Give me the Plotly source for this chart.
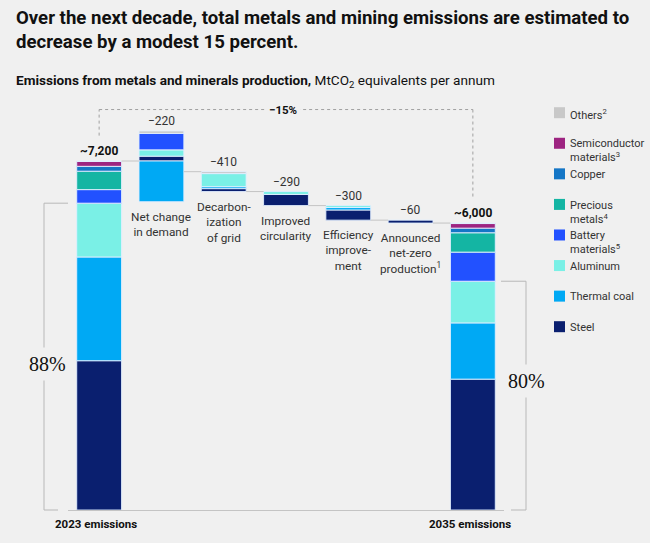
import plotly.graph_objects as go

# stages of the waterfall (x positions 0..6)
stages = ["2023 emissions", "Net change<br>in demand", "Decarbon-<br>ization<br>of grid",
          "Improved<br>circularity", "Efficiency<br>improve-<br>ment",
          "Announced<br>net-zero<br>production<sup>1</sup>", "2035 emissions"]
value_labels = ["~7,200", "\u2212220", "\u2212410", "\u2212290", "\u2212300", "\u221260", "~6,000"]
change_label = "\u221215%"

materials = ["Steel", "Thermal coal", "Aluminum", "Battery materials", "Precious metals",
             "Copper", "Semiconductor materials", "Others"]
legend_labels = ["Steel", "Thermal coal", "Aluminum", "Battery<br>materials<sup>5</sup>",
                 "Precious<br>metals<sup>4</sup>", "Copper",
                 "Semiconductor<br>materials<sup>3</sup>", "Others<sup>2</sup>"]
colors = ["#0a1f6f", "#00a9f4", "#7af0e6", "#2251ff", "#14b5a3", "#1476c6", "#9d2481", "#c8c8c8"]

# MtCO2e: first and last = totals, middle = change per lever
steel = [3080, 100, -60, -230, -210, -60, 2700]
thermal_coal = [2140, -840, -40, 0, -50, 0, 1160]
aluminum = [1110, 130, -270, -60, -40, 0, 860]
battery = [280, 340, 0, 0, 0, 0, 600]
precious = [380, 0, 0, 0, 0, 0, 400]
copper = [100, 0, 0, 0, 0, 0, 95]
semiconductor = [100, 0, 0, 0, 0, 0, 95]
others = [10, 50, -40, 0, 0, 0, 10]
series = [steel, thermal_coal, aluminum, battery, precious, copper, semiconductor, others]

YMAX = 8500
BAR_W = 0.72
BG = "#f0f0f0"
TXT = "#333333"
FONT = "Roboto"

n = len(stages)
bases = [[None] * n for _ in series]
heights = [[None] * n for _ in series]
tops, bottoms, ends = [0] * n, [0] * n, [0] * n
level = 0
for j in range(n):
    col = [s[j] for s in series]
    if j == 0 or j == n - 1:
        cum = 0
        for i, v in enumerate(col):
            if v:
                bases[i][j], heights[i][j] = cum, v
            cum += v
        tops[j], bottoms[j], ends[j] = cum, 0, cum
        level = cum
    else:
        neg = sum(v for v in col if v < 0)
        up, down = level, level + neg
        for i, v in enumerate(col):
            if v > 0:
                bases[i][j], heights[i][j] = up, v
                up += v
            elif v < 0:
                bases[i][j], heights[i][j] = down, -v
                down -= v
        tops[j], bottoms[j] = up, level + neg
        level += sum(col)
        ends[j] = level

fig = go.Figure()
for i, name in enumerate(materials):
    fig.add_trace(go.Bar(
        x=list(range(n)), y=heights[i], base=bases[i], name=name,
        width=BAR_W, marker=dict(color=colors[i], line=dict(color="rgba(225,238,255,0.9)", width=1)),
        showlegend=False, hoverinfo="skip"))

# plot geometry in px (for decorations outside the plot)
L, R, T, B = 68, 504, 98, 510


def px_x(px):
    return (px - L) / (R - L)


def px_y(py):
    return (B - py) / (B - T)


def dy(v):
    return v / YMAX


shapes = []
annotations = []

# connector lines
for j in range(n - 1):
    shapes.append(dict(type="line", xref="x", yref="y", x0=j + BAR_W / 2, x1=j + 1 - BAR_W / 2,
                       y0=ends[j], y1=ends[j], line=dict(color="#c4c4c4", width=1)))

# value labels and stage labels
for j in range(n):
    bold = j in (0, n - 1)
    annotations.append(dict(x=j, y=tops[j], xref="x", yref="y", text=value_labels[j],
                            showarrow=False, yanchor="bottom", yshift=1,
                            font=dict(size=12, color="#111" if bold else TXT,
                                      weight="bold" if bold else "normal")))
    if bold:
        annotations.append(dict(x=j, y=0, xref="x", yref="y", text=stages[j], showarrow=False,
                                yanchor="top", yshift=-5, xshift=-3,
                                font=dict(size=11.5, color="#111", weight="bold")))
    else:
        annotations.append(dict(x=j, y=bottoms[j], xref="x", yref="y", text=stages[j],
                                showarrow=False, yanchor="top", yshift=-6,
                                font=dict(size=11.8, color=TXT)))

# dashed -15% bracket
dash = dict(color="#a0a0a0", width=1, dash="3px,3px")
y_top = 8262
shapes += [
    dict(type="line", xref="x", yref="y", x0=0, x1=0, y0=7724, y1=y_top, line=dash),
    dict(type="line", xref="x", yref="y", x0=0, x1=n - 1, y0=y_top, y1=y_top, line=dash),
    dict(type="line", xref="x", yref="y", x0=n - 1, x1=n - 1, y0=y_top, y1=6460, line=dash),
]
annotations.append(dict(x=2.95, y=y_top, xref="x", yref="y", text=change_label,
                        showarrow=False, bgcolor=BG, borderpad=3,
                        font=dict(size=11.5, color="#111", weight="bold")))

# share brackets (steel + coal + aluminum)
grey = dict(color="#b8b8b8", width=1)
core0 = sum(s[0] for s in series[:3])
core1 = sum(s[-1] for s in series[:3])
share0 = round(100 * core0 / ends[0])
share1 = round(100 * core1 / ends[-1])
xl, xr = px_x(44), px_x(526)
shapes += [
    dict(type="line", xref="paper", yref="paper", x0=xl, x1=0, y0=dy(core0), y1=dy(core0), line=grey),
    dict(type="line", xref="paper", yref="paper", x0=xl, x1=xl, y0=dy(core0), y1=0, line=grey),
    dict(type="line", xref="paper", yref="paper", x0=xl, x1=px_x(58), y0=0, y1=0, line=grey),
    dict(type="line", xref="paper", yref="paper", x0=px_x(501), x1=xr, y0=dy(core1), y1=dy(core1), line=grey),
    dict(type="line", xref="paper", yref="paper", x0=xr, x1=xr, y0=dy(core1), y1=0, line=grey),
    dict(type="line", xref="paper", yref="paper", x0=px_x(511), x1=xr, y0=0, y1=0, line=grey),
]
annotations.append(dict(x=px_x(47), y=dy(core0 / 2), xref="paper", yref="paper", text=f"{share0}%",
                        showarrow=False, bgcolor=BG, borderpad=5, yshift=-7, xanchor="center",
                        font=dict(family="Liberation Serif", size=20, color="#111")))
annotations.append(dict(x=xr, y=dy(core1 / 2), xref="paper", yref="paper", text=f"{share1}%",
                        showarrow=False, bgcolor=BG, borderpad=5, yshift=-2, xanchor="center",
                        font=dict(family="Liberation Serif", size=20, color="#111")))

# custom legend
for k, i in enumerate(reversed(range(len(materials)))):
    cy = 112.7 + 30.57 * k
    shapes.append(dict(type="rect", xref="paper", yref="paper", x0=px_x(554), x1=px_x(565),
                       y0=px_y(cy + 5.5), y1=px_y(cy - 5.5), fillcolor=colors[i], line=dict(width=0)))
    annotations.append(dict(x=px_x(568), y=px_y(cy - 7.8), xref="paper", yref="paper",
                            text=legend_labels[i], showarrow=False, xanchor="left", yanchor="top",
                            align="left", font=dict(size=11, color=TXT)))

# title (two lines) and subtitle
title_lines = ["Over the next decade, total metals and mining emissions are estimated to",
               "decrease by a modest 15 percent."]
for k, line in enumerate(title_lines):
    annotations.append(dict(x=px_x(14), y=px_y(18 + 24 * k), xref="paper", yref="paper",
                            xanchor="left", yanchor="middle", showarrow=False, text=line,
                            font=dict(size=18.6, color="#111", weight="bold")))
annotations.append(dict(x=px_x(14), y=px_y(81), xref="paper", yref="paper", xanchor="left",
                        yanchor="middle", showarrow=False,
                        text="<b>Emissions from metals and minerals production,</b> "
                             "MtCO<sub>2</sub> equivalents per annum",
                        font=dict(size=13.6, color="#111")))

fig.update_layout(
    width=650, height=543,
    margin=dict(l=L, r=650 - R, t=T, b=543 - B),
    paper_bgcolor=BG, plot_bgcolor=BG,
    barmode="overlay",
    font=dict(family=FONT, color=TXT),
    xaxis=dict(range=[-0.5, n - 0.5], showgrid=False, zeroline=False, showticklabels=False,
               showline=True, linecolor="#c4c4c4", linewidth=1, ticks="", fixedrange=True),
    yaxis=dict(range=[0, YMAX], visible=False, fixedrange=True),
    shapes=shapes, annotations=annotations,
)

fig.write_html("out.html", config={"displayModeBar": False},
               post_script="document.body.style.margin='0';document.body.style.background='#f0f0f0';")
